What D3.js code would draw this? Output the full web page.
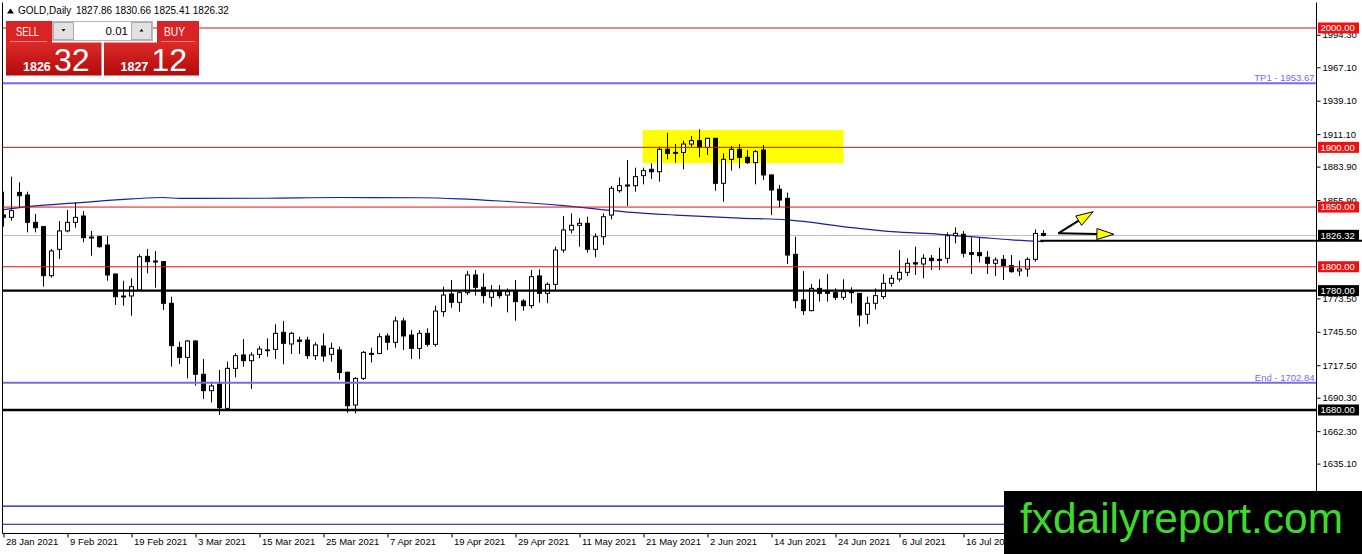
<!DOCTYPE html>
<html>
<head>
<meta charset="utf-8">
<script src="https://cdn.jsdelivr.net/npm/d3@7"></script>
<style>
html, body { margin: 0; padding: 0; background: #fff; overflow: hidden; }
svg { display: block; font-family: "Liberation Sans", Arial, sans-serif; }
</style>
</head>
<body>
<script>
var width = 1362,
  height = 554;

// daily candles, 28 Jan 2021 .. 29 Jul 2021
var open = [1843.4,1841.4,1862.3,1860.1,1837.2,1833.6,1792.5,1814.6,1830.0,1837.2,
  1842.5,1824.9,1825.2,1818.2,1793.9,1775.5,1775.5,1780.5,1808.7,1804.8,
  1804.3,1769.4,1732.5,1724.1,1737.8,1709.9,1696.2,1701.8,1681.4,1714.9,
  1726.1,1721.3,1726.6,1729.7,1730.8,1745.1,1735.3,1738.6,1738.6,1725.5,
  1733.6,1726.6,1730.3,1711.6,1684.2,1706.5,1727.4,1727.4,1742.0,1736.7,
  1754.6,1742.8,1731.6,1744.2,1735.0,1762.4,1777.2,1770.2,1778.3,1793.1,
  1782.8,1774.4,1779.1,1776.3,1779.1,1771.3,1767.4,1792.3,1777.7,1785.3,
  1814.0,1830.8,1834.7,1836.4,1814.6,1825.2,1843.3,1863.7,1868.5,1867.9,
  1876.3,1881.6,1879.6,1898.4,1895.8,1895.8,1902.8,1905.6,1900.0,1907.6,
  1869.9,1890.0,1898.4,1891.7,1887.2,1897.8,1876.9,1864.9,1857.3,1810.4,
  1772.2,1763.2,1781.9,1779.1,1778.3,1774.4,1780.0,1777.7,1760.2,1769.4,
  1775.0,1786.1,1789.7,1795.3,1803.4,1802.3,1807.1,1806.2,1807.1,1826.0,
  1827.2,1811.8,1811.8,1807.9,1802.9,1806.2,1800.9,1796.5,1798.1,1806.2,
  1827.86];
var high = [1862.9,1875.5,1870.7,1862.9,1844.2,1834.2,1814.9,1838.3,1847.5,1854.0,
  1846.7,1830.0,1826.0,1825.8,1794.2,1788.3,1790.3,1810.4,1814.9,1813.2,
  1804.8,1774.9,1737.2,1738.6,1738.6,1722.7,1703.7,1713.5,1720.5,1727.5,
  1739.5,1728.3,1733.6,1740.0,1751.8,1754.6,1745.6,1741.4,1741.4,1736.7,
  1744.2,1736.4,1733.1,1712.1,1707.4,1729.4,1732.2,1744.2,1744.2,1758.2,
  1757.3,1747.0,1747.0,1748.4,1767.4,1783.3,1788.9,1780.5,1796.4,1797.3,
  1794.5,1784.7,1784.7,1781.9,1788.9,1773.0,1797.3,1797.8,1786.9,1816.8,
  1842.5,1844.7,1840.6,1841.9,1828.0,1844.7,1867.6,1874.9,1889.4,1883.0,
  1883.0,1886.6,1900.6,1912.3,1902.8,1905.6,1909.5,1915.1,1907.9,1907.9,
  1895.0,1901.2,1902.8,1897.8,1897.8,1902.0,1877.2,1868.5,1862.1,1825.2,
  1796.4,1785.6,1789.5,1793.9,1781.9,1789.5,1782.8,1778.0,1774.9,1781.9,
  1793.9,1793.1,1814.0,1807.1,1816.8,1810.4,1809.8,1816.0,1828.8,1833.0,
  1829.9,1824.6,1824.3,1813.2,1807.9,1809.8,1809.8,1805.1,1807.9,1831.3,
  1830.66];
var low = [1833.6,1838.6,1849.8,1828.8,1828.8,1783.3,1790.9,1806.5,1828.8,1832.7,
  1820.5,1809.3,1816.0,1788.3,1768.0,1767.4,1759.0,1780.0,1794.5,1782.5,
  1763.8,1716.3,1718.5,1706.5,1700.4,1689.2,1686.4,1675.8,1679.4,1707.4,
  1716.3,1697.6,1723.3,1724.7,1722.7,1718.3,1726.9,1726.9,1722.7,1721.9,
  1720.5,1720.5,1705.5,1677.8,1677.2,1705.1,1719.9,1726.6,1730.3,1732.2,
  1730.3,1722.7,1722.7,1733.0,1733.0,1758.2,1765.7,1762.4,1776.3,1775.8,
  1769.4,1766.6,1773.5,1761.8,1754.8,1763.2,1765.2,1769.9,1769.4,1780.5,
  1811.8,1828.0,1816.8,1811.8,1807.9,1818.2,1839.7,1862.1,1850.9,1862.9,
  1869.0,1873.5,1871.3,1890.0,1887.2,1881.6,1900.6,1891.7,1893.6,1863.7,
  1854.5,1880.5,1882.4,1886.1,1869.0,1872.7,1843.3,1849.8,1802.3,1765.2,
  1759.6,1762.8,1770.7,1770.7,1772.2,1772.2,1769.3,1749.8,1752.0,1764.3,
  1772.7,1783.3,1787.5,1792.3,1793.1,1790.3,1797.3,1797.3,1802.9,1819.6,
  1807.9,1793.9,1803.7,1793.9,1792.3,1788.9,1795.0,1792.3,1791.7,1804.3,
  1825.41];
var close = [1841.4,1847.0,1859.5,1837.2,1832.7,1792.5,1813.2,1830.0,1837.2,1841.4,
  1824.4,1824.1,1816.8,1793.1,1774.9,1774.7,1783.3,1808.4,1804.3,1804.0,
  1769.4,1733.9,1724.1,1737.8,1709.9,1696.2,1700.1,1682.0,1714.9,1725.5,
  1721.3,1726.1,1731.1,1730.3,1744.2,1735.9,1744.2,1737.5,1725.5,1734.5,
  1725.2,1731.7,1711.4,1683.6,1706.5,1728.3,1726.6,1741.4,1736.7,1754.6,
  1742.0,1731.6,1744.2,1735.0,1762.9,1776.3,1770.2,1778.3,1793.1,1782.8,
  1775.8,1779.1,1775.8,1779.1,1770.8,1767.4,1791.7,1777.7,1785.3,1814.0,
  1830.8,1834.7,1836.4,1814.6,1825.2,1841.9,1865.7,1867.9,1867.6,1875.5,
  1880.5,1879.6,1898.4,1895.0,1895.0,1902.8,1905.6,1900.0,1907.6,1869.9,
  1890.0,1898.4,1891.7,1887.2,1896.4,1876.9,1864.3,1855.9,1809.8,1771.6,
  1763.2,1781.9,1777.7,1777.7,1774.4,1779.1,1778.3,1759.6,1769.4,1775.8,
  1786.1,1790.3,1795.3,1802.9,1802.3,1807.1,1805.1,1805.4,1826.0,1828.0,
  1811.3,1810.4,1809.3,1802.9,1805.7,1800.9,1795.9,1798.1,1806.2,1827.9,
  1826.32];

// moving average, read at a few bars
var maBar = [0, 3, 10, 16, 20, 22, 24, 33, 42, 52, 57, 62, 70, 78, 84, 92, 98, 106, 111, 117, 122, 126, 130];
var maVal = [1847.8, 1850.3, 1854.0, 1856.8, 1858.0, 1857.2, 1857.2, 1857.4, 1858.0, 1857.8, 1856.9, 1855.1,
  1851.2, 1845.8, 1843.3, 1840.8, 1839.2, 1832.8, 1829.4, 1827.2, 1824.6, 1822.5, 1821.0];

var dateIdx = [0, 8, 16, 24, 32, 40, 48, 56, 64, 72, 80, 88, 96, 104, 112, 120];
var dateLabels = ["28 Jan 2021", "9 Feb 2021", "19 Feb 2021", "3 Mar 2021", "15 Mar 2021", "25 Mar 2021",
  "7 Apr 2021", "19 Apr 2021", "29 Apr 2021", "11 May 2021", "21 May 2021", "2 Jun 2021",
  "14 Jun 2021", "24 Jun 2021", "6 Jul 2021", "16 Jul 2021"];
var priceTicks = [1994.30, 1967.10, 1939.10, 1911.10, 1883.90, 1855.90,
  1773.50, 1745.50, 1717.50, 1690.30, 1662.30, 1635.10];

var redLevels = [2000, 1900, 1850, 1800];
var blackLevels = [1780, 1680];
var blueLevels = [1953.67, 1702.84];
var blueNames = ["TP1", "End"];
var navyLevels = [1599.4, 1584.3];
var bid = 1826.32, ask = 1827.12;
var rayLevel = 1821.8, rayStart = 129.6;
var boxBars = [79.9, 105], boxPrices = [1914.6, 1886.7];
var arrows = [[131.85, 1828.0, 136.2, 1846.1], [131.85, 1828.0, 138.8, 1827.2]];

var svg = d3.select("body").append("svg")
  .attr("width", width)
  .attr("height", height);

var x = d3.scaleLinear().domain([0, 164]).range([3.5, 3.5 + 8 * 164]);
var y = d3.scaleLinear().domain([1680, 2000]).range([410, 28]);

var plotRight = 1316.5, plotBottom = 533.5;

svg.append("clipPath").attr("id", "plot")
  .append("rect").attr("x", 3).attr("y", 3).attr("width", plotRight - 3).attr("height", plotBottom - 3);

var plot = svg.append("g").attr("clip-path", "url(#plot)");

// yellow zone (background object)
plot.append("rect")
  .attr("x", x(boxBars[0]))
  .attr("width", x(boxBars[1]) - x(boxBars[0]))
  .attr("y", y(boxPrices[0]))
  .attr("height", y(boxPrices[1]) - y(boxPrices[0]))
  .attr("fill", "#ffff00");

// bid line
plot.append("line")
  .attr("x1", 0).attr("x2", plotRight)
  .attr("y1", Math.round(y(bid)) + 0.5).attr("y2", Math.round(y(bid)) + 0.5)
  .attr("stroke", "#c0c0c0");

// moving average
var ma = d3.line()
  .x(function(d, i) { return x(maBar[i]); })
  .y(function(d) { return y(d); })
  .curve(d3.curveMonotoneX);
plot.append("path")
  .attr("d", ma(maVal))
  .attr("fill", "none")
  .attr("stroke", "#1c1ca8")
  .attr("stroke-width", 1.2);

// candles
var bars = d3.range(close.length);
var candles = plot.selectAll(".candle")
  .data(bars)
  .enter()
  .append("g")
  .attr("class", "candle");

candles.append("line")
  .attr("x1", function(d) { return x(d); })
  .attr("x2", function(d) { return x(d); })
  .attr("y1", function(d) { return y(high[d]); })
  .attr("y2", function(d) { return y(low[d]); })
  .attr("stroke", "#000");

candles.append("rect")
  .attr("x", function(d) { return x(d) - 2; })
  .attr("width", 4)
  .attr("y", function(d) { return y(Math.max(open[d], close[d])); })
  .attr("height", function(d) { return Math.max(0.5, Math.abs(y(open[d]) - y(close[d]))); })
  .attr("fill", function(d) { return close[d] >= open[d] ? "#fff" : "#000"; })
  .attr("stroke", "#000");

// horizontal levels
function hline(p, color, w) {
  plot.append("line")
    .attr("x1", 0).attr("x2", plotRight)
    .attr("y1", y(p)).attr("y2", y(p))
    .attr("stroke", color)
    .attr("stroke-width", w);
}
redLevels.forEach(function(p) { hline(p, "#dd1111", 1); });
navyLevels.forEach(function(p) { hline(p, "#1414a0", 1.2); });
blueLevels.forEach(function(p) { hline(p, "#7b68ee", 2); });
blackLevels.forEach(function(p) { hline(p, "#000", 2.4); });

blueLevels.forEach(function(p, i) {
  plot.append("text")
    .attr("x", plotRight - 2)
    .attr("y", y(p) - 2)
    .attr("text-anchor", "end")
    .attr("font-size", "9.5px")
    .attr("fill", "#7b68ee")
    .text(blueNames[i] + " - " + p.toFixed(2));
});

// arrows
arrows.forEach(function(a) {
  var x0 = x(a[0]), y0 = y(a[1]), x1 = x(a[2]), y1 = y(a[3]);
  var len = Math.hypot(x1 - x0, y1 - y0), ux = (x1 - x0) / len, uy = (y1 - y0) / len;
  var L = 17, w = 5.5;
  var bx = x1 - L * ux, by = y1 - L * uy;
  svg.append("line")
    .attr("x1", x0).attr("y1", y0).attr("x2", bx).attr("y2", by)
    .attr("stroke", "#000").attr("stroke-width", 2);
  svg.append("path")
    .attr("d", "M" + x1 + "," + y1 + "L" + (bx - w * uy) + "," + (by + w * ux) +
      "L" + (bx + w * uy) + "," + (by - w * ux) + "Z")
    .attr("fill", "#ffff00")
    .attr("stroke", "#000")
    .attr("stroke-width", 1);
});

// frame
svg.append("line").attr("x1", 2.5).attr("x2", 2.5).attr("y1", 2.5).attr("y2", plotBottom).attr("stroke", "#000");
svg.append("line").attr("x1", 2.5).attr("x2", plotRight).attr("y1", plotBottom).attr("y2", plotBottom).attr("stroke", "#000");
svg.append("line").attr("x1", plotRight).attr("x2", plotRight).attr("y1", 2.5).attr("y2", plotBottom).attr("stroke", "#000");

// price axis
var yAxis = svg.append("g")
  .attr("transform", "translate(" + plotRight + ",0)")
  .call(d3.axisRight(y).tickValues(priceTicks).tickSize(4).tickPadding(2).tickFormat(d3.format(".2f")));
yAxis.select(".domain").remove();
yAxis.selectAll("text").attr("font-size", "9.5px").attr("font-family", "Liberation Sans, Arial, sans-serif").attr("fill", "#000");

// date axis
var xAxis = svg.append("g")
  .attr("transform", "translate(0," + plotBottom + ")")
  .call(d3.axisBottom(x).tickValues(dateIdx).tickSize(4)
    .tickFormat(function(d, i) { return dateLabels[i]; }));
xAxis.select(".domain").remove();
xAxis.selectAll("text")
  .attr("text-anchor", "start")
  .attr("x", 2)
  .attr("y", 5)
  .attr("font-size", "9.5px")
  .attr("font-family", "Liberation Sans, Arial, sans-serif")
  .attr("fill", "#000");

// horizontal ray
svg.append("line")
  .attr("x1", x(rayStart)).attr("x2", width)
  .attr("y1", y(rayLevel)).attr("y2", y(rayLevel))
  .attr("stroke", "#000").attr("stroke-width", 2.2);

// price labels on the axis
function priceTag(p, fill) {
  svg.append("rect")
    .attr("x", 1318).attr("y", y(p) - 5.5)
    .attr("width", 41).attr("height", 11)
    .attr("fill", fill);
  svg.append("text")
    .attr("x", 1320.5).attr("y", y(p)).attr("dy", "0.36em")
    .attr("font-size", "9.5px").attr("fill", "#fff")
    .text(p.toFixed(2));
}
redLevels.forEach(function(p) { priceTag(p, "#ee1111"); });
blackLevels.forEach(function(p) { priceTag(p, "#000"); });
priceTag(bid, "#000");

// header
svg.append("path").attr("d", "M7,13.5L10.5,8.5L14,13.5Z").attr("fill", "#000");
svg.append("text").attr("x", 18).attr("y", 13.5).attr("font-size", "10px").text("GOLD,Daily");
svg.append("text").attr("x", 76).attr("y", 13.5).attr("font-size", "10px")
  .text([open[130], high[130], low[130], close[130]].map(function(v) { return v.toFixed(2); }).join(" "));

// one click trading panel
var defs = svg.append("defs");
var grad = defs.append("linearGradient").attr("id", "redgrad").attr("x1", 0).attr("x2", 0).attr("y1", 0).attr("y2", 1);
grad.append("stop").attr("offset", "0%").attr("stop-color", "#dc2a2a");
grad.append("stop").attr("offset", "100%").attr("stop-color", "#b30a0a");

var panel = svg.append("g");
panel.append("rect").attr("x", 6).attr("y", 21).attr("width", 46).attr("height", 22).attr("fill", "#d82424");
panel.append("rect").attr("x", 157).attr("y", 21).attr("width", 42).attr("height", 22).attr("fill", "#d82424");
panel.append("rect").attr("x", 6).attr("y", 42.5).attr("width", 95.5).attr("height", 33).attr("fill", "url(#redgrad)");
panel.append("rect").attr("x", 104).attr("y", 42.5).attr("width", 95).attr("height", 33).attr("fill", "url(#redgrad)");
panel.append("line").attr("x1", 10).attr("x2", 47).attr("y1", 41.5).attr("y2", 41.5).attr("stroke", "#ee8080");
panel.append("line").attr("x1", 161).attr("x2", 195).attr("y1", 41.5).attr("y2", 41.5).attr("stroke", "#ee8080");

panel.append("rect").attr("x", 52.5).attr("y", 21.5).attr("width", 100).attr("height", 19).attr("fill", "#fff").attr("stroke", "#b8b8b8");
panel.append("rect").attr("x", 53.5).attr("y", 22.5).attr("width", 20).attr("height", 17).attr("fill", "#e1e1e1").attr("stroke", "#adadad");
panel.append("rect").attr("x", 131.5).attr("y", 22.5).attr("width", 20).attr("height", 17).attr("fill", "#e1e1e1").attr("stroke", "#adadad");
panel.append("path").attr("d", "M61.5,29L65.5,29L63.5,31.5Z").attr("fill", "#000");
panel.append("path").attr("d", "M139.5,31.5L143.5,31.5L141.5,29Z").attr("fill", "#000");
panel.append("text").attr("x", 128).attr("y", 35).attr("text-anchor", "end").attr("font-size", "11.5px").attr("fill", "#000").text("0.01");

panel.append("text").attr("x", 16).attr("y", 35.5).attr("font-size", "12.5px").attr("fill", "#fff")
  .attr("textLength", 23).attr("lengthAdjust", "spacingAndGlyphs").text("SELL");
panel.append("text").attr("x", 164).attr("y", 35.5).attr("font-size", "12.5px").attr("fill", "#fff")
  .attr("textLength", 21).attr("lengthAdjust", "spacingAndGlyphs").text("BUY");

function bigPrice(p, x0) {
  var s = p.toFixed(2).split(".");
  panel.append("text").attr("x", x0).attr("y", 70.5).attr("font-size", "12.5px").attr("font-weight", "bold")
    .attr("fill", "#fff").text(s[0]);
  panel.append("text").attr("x", x0 + 31).attr("y", 70.5).attr("font-size", "32px")
    .attr("fill", "#fff").text(s[1]);
}
bigPrice(bid, 23);
bigPrice(ask, 120.5);

// watermark box
svg.append("rect").attr("x", 1004).attr("y", 491).attr("width", width - 1004).attr("height", height - 491).attr("fill", "#000");
svg.append("text").attr("x", 1020).attr("y", 533)
  .attr("font-family", "Liberation Sans, Arial, sans-serif")
  .attr("font-size", "43px").attr("fill", "#3cdb2a")
  .attr("textLength", 323).attr("lengthAdjust", "spacingAndGlyphs")
  .text("fxdailyreport.com");
</script>
</body>
</html>
